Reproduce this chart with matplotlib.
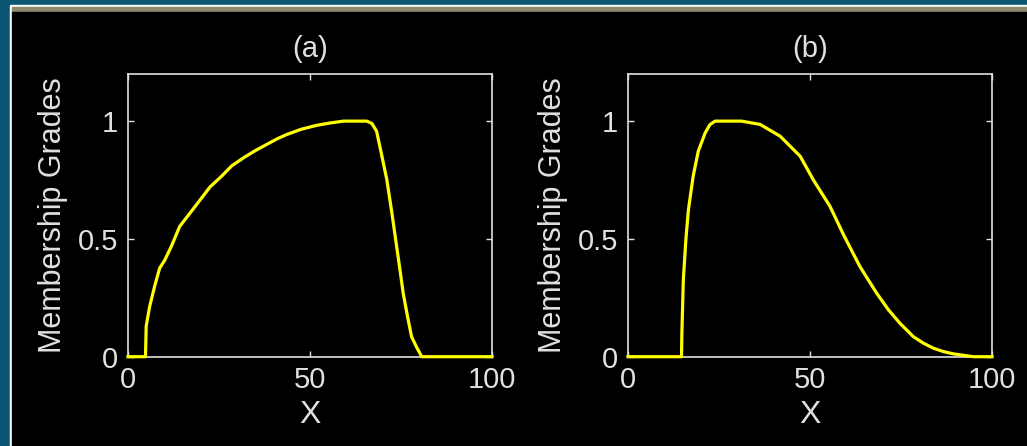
import matplotlib
matplotlib.use("Agg")
import matplotlib.pyplot as plt
from matplotlib.patches import Rectangle

# curve (a)
a_x = [0, 4.8, 5.0, 5.95, 7.3, 8.7, 10.1, 11.9, 14.2, 16.0, 19.2, 22.5, 25.7, 28.5, 31.7, 35,
       38.1, 41, 43.6, 47.5, 51.8, 55.5, 59.2, 62.5, 65.6, 67, 68.3, 69.5, 71.1, 72.5,
       73.8, 74.8, 75.6, 76.8, 77.9, 79.3, 80.7, 100]
a_y = [0, 0, 0.13, 0.213, 0.298, 0.376, 0.41, 0.468, 0.553, 0.589, 0.653, 0.72, 0.766, 0.81, 0.844, 0.875,
       0.901, 0.925, 0.943, 0.965, 0.982, 0.992, 1.0, 1.0, 1.0, 0.99, 0.957, 0.87, 0.752, 0.61,
       0.468, 0.36, 0.27, 0.17, 0.085, 0.04, 0, 0]

# curve (b)
b_x = [0, 14.7, 14.8, 15.2, 15.9, 16.6, 17.9, 19.3, 21.2, 22.5, 23.9, 27.5, 31.2, 36.3,
       41.8, 47.3, 50.9, 55.5, 59.2, 63.7, 68.3, 71.5, 74.7, 78.4, 81.1, 83.9, 86.6,
       89.4, 94.9, 100]
b_y = [0, 0, 0.1, 0.326, 0.497, 0.624, 0.766, 0.872, 0.95, 0.985, 1.0, 1.0, 1.0, 0.986,
       0.936, 0.851, 0.751, 0.638, 0.518, 0.383, 0.27, 0.2, 0.142, 0.085, 0.058, 0.036, 0.022,
       0.012, 0.0, 0]

titles = ["(a)", "(b)"]
xticks = [0, 50, 100]
yticks = [0, 0.5, 1]
ytick_labels = ["0", "0.5", "1"]

W, H = 1027, 446
plt.rcParams['font.family'] = ['Liberation Sans', 'DejaVu Sans']
fig = plt.figure(figsize=(W / 100, H / 100), dpi=100)
fig.patch.set_facecolor("#0b5773")

# window-like frame: teal border, white edge, tan strip
def px_rect(x0, y0, x1, y1, color):
    # pixel coords measured from top-left
    fig.patches.append(Rectangle((x0 / W, 1 - y1 / H), (x1 - x0) / W, (y1 - y0) / H,
                                 transform=fig.transFigure, color=color, zorder=-5))

px_rect(10, 5, W, H, "white")
px_rect(12, 7, W, 12, "#8c8a6c")
px_rect(12, 12, W, H, "black")

fc = "#e0e0e0"
for i, (xs, ys) in enumerate([(a_x, a_y), (b_x, b_y)]):
    left = [128, 628][i]
    ax = fig.add_axes([left / W, 1 - 356.7 / H, 364 / W, (356.7 - 74) / H])
    ax.set_facecolor("black")
    ax.plot(xs, ys, color="#ffff00", lw=2.3, clip_on=False, zorder=3)
    ax.set_xlim(0, 100)
    ax.set_ylim(0, 1.2)
    ax.set_xticks(xticks)
    ax.set_xticklabels([str(t) for t in xticks])
    ax.set_yticks(yticks)
    ax.set_yticklabels(ytick_labels)
    ax.tick_params(direction="in", length=4, width=1, colors=fc, labelsize=21,
                   top=True, right=True, pad=7)
    for s in ax.spines.values():
        s.set_color(fc)
        s.set_linewidth(1.2)
    ax.set_title(titles[i], color=fc, fontsize=21, pad=12)
    ax.set_xlabel("X", color=fc, fontsize=23, labelpad=4)
    ax.set_ylabel("Membership Grades", color=fc, fontsize=22, labelpad=7)

fig.savefig("out.png", dpi=100, facecolor=fig.get_facecolor())
